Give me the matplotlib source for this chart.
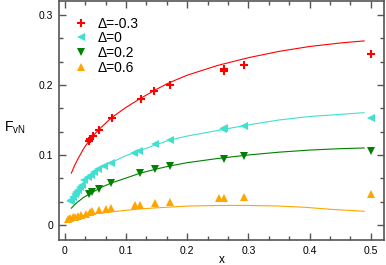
import matplotlib
matplotlib.use("Agg")
import matplotlib.pyplot as plt
from matplotlib.ticker import MultipleLocator

plt.rcParams['font.family'] = ['Liberation Sans', 'DejaVu Sans']

# ---- data points ----
red_x = [0.039, 0.041, 0.0455, 0.0557, 0.0766, 0.124, 0.146, 0.1715, 0.26, 0.26, 0.293, 0.4995]
red_y = [0.120, 0.123, 0.127, 0.136, 0.153, 0.180, 0.191, 0.200, 0.220, 0.223, 0.229, 0.244]

cyan_x = [0.009, 0.0107, 0.0134, 0.016, 0.0188, 0.0214, 0.024, 0.028, 0.032, 0.0375, 0.042,
          0.047, 0.055, 0.064, 0.075, 0.1136, 0.122, 0.147, 0.1715, 0.258, 0.26, 0.292, 0.4995]
cyan_y = [0.034, 0.036, 0.0405, 0.044, 0.047, 0.050, 0.054, 0.057, 0.064, 0.069, 0.072,
          0.076, 0.0795, 0.084, 0.088, 0.103, 0.106, 0.115, 0.121, 0.137, 0.139, 0.141, 0.153]

green_x = [0.039, 0.0445, 0.0563, 0.076, 0.123, 0.147, 0.1715, 0.26, 0.2926, 0.4995]
green_y = [0.044, 0.0467, 0.0514, 0.0605, 0.0738, 0.0795, 0.0843, 0.0938, 0.099, 0.106]

orange_x = [0.0053, 0.009, 0.013, 0.017, 0.0214, 0.027, 0.0354, 0.0418, 0.045, 0.0563, 0.0675,
            0.076, 0.1141, 0.123, 0.147, 0.1715, 0.252, 0.26, 0.2926, 0.4995]
orange_y = [0.008, 0.0097, 0.011, 0.0115, 0.0133, 0.014, 0.016, 0.019, 0.020, 0.0213, 0.0233,
            0.0247, 0.0286, 0.0286, 0.031, 0.0333, 0.039, 0.039, 0.0395, 0.0438]

# ---- theory curves ----
red_cx = [0.0107, 0.015, 0.02, 0.03, 0.04, 0.05, 0.06, 0.076, 0.1, 0.124, 0.15, 0.17,
          0.2, 0.25, 0.3, 0.35, 0.4, 0.45, 0.489]
red_cy = [0.074, 0.083, 0.092, 0.108, 0.121, 0.131, 0.140, 0.153, 0.168, 0.181, 0.194, 0.203,
          0.214, 0.228, 0.239, 0.248, 0.255, 0.260, 0.263]

cyan_cx = [0.0107, 0.015, 0.02, 0.03, 0.04, 0.05, 0.06, 0.075, 0.1, 0.125, 0.15, 0.17,
           0.2, 0.25, 0.3, 0.35, 0.4, 0.45, 0.489]
cyan_cy = [0.035, 0.042, 0.048, 0.060, 0.069, 0.076, 0.082, 0.089, 0.099, 0.107, 0.115, 0.121,
           0.127, 0.135, 0.143, 0.150, 0.155, 0.158, 0.1604]

green_cx = [0.0107, 0.015, 0.02, 0.03, 0.04, 0.05, 0.06, 0.076, 0.1, 0.123, 0.15, 0.17,
            0.2, 0.25, 0.3, 0.35, 0.4, 0.45, 0.489]
green_cy = [0.024, 0.028, 0.032, 0.039, 0.044, 0.049, 0.054, 0.060, 0.067, 0.074, 0.080, 0.084,
            0.089, 0.095, 0.100, 0.104, 0.107, 0.109, 0.110]

orange_cx = [0.0053, 0.01, 0.02, 0.03, 0.04, 0.05, 0.075, 0.1, 0.125, 0.15, 0.1715,
             0.2, 0.25, 0.2947, 0.35, 0.391, 0.44, 0.489]
orange_cy = [0.0071, 0.009, 0.012, 0.0135, 0.015, 0.016, 0.0185, 0.021, 0.023, 0.0245, 0.0255,
             0.027, 0.0278, 0.028, 0.027, 0.0253, 0.022, 0.0196]

labels = ['Δ=-0.3', 'Δ=0', 'Δ=0.2', 'Δ=0.6']
colors = ['#ff0000', '#40e0d0', '#008000', '#ffa500']

fig = plt.figure(figsize=(3.86, 2.65), dpi=100)
ax = fig.add_axes([59/386, 1 - 240/265, 325/386, 239/265])

ax.plot(red_cx, red_cy, '-', color=colors[0], lw=0.8)
ax.plot(cyan_cx, cyan_cy, '-', color=colors[1], lw=0.8)
ax.plot(green_cx, green_cy, '-', color=colors[2], lw=0.8)
ax.plot(orange_cx, orange_cy, '-', color=colors[3], lw=0.8)

ax.plot(red_x, red_y, '+', color=colors[0], ms=6, mew=1.5, ls='none', label=labels[0])
ax.plot(cyan_x, cyan_y, '<', color=colors[1], ms=5.5, mew=0, ls='none', label=labels[1])
ax.plot(green_x, green_y, 'v', color=colors[2], ms=5.5, mew=0, ls='none', label=labels[2])
ax.plot(orange_x, orange_y, '^', color=colors[3], ms=5.5, mew=0, ls='none', label=labels[3])

ax.set_xlim(-0.0095, 0.5215)
ax.set_ylim(-0.0215, 0.32)

ax.xaxis.set_minor_locator(MultipleLocator(0.1/3))
ax.yaxis.set_minor_locator(MultipleLocator(0.1/3))
ax.set_xticks([0, 0.1, 0.2, 0.3, 0.4, 0.5])
ax.set_xticklabels(['0', '0.1', '0.2', '0.3', '0.4', '0.5'])
ax.set_yticks([0, 0.1, 0.2, 0.3])
ax.set_yticklabels(['0', '0.1', '0.2', '0.3'])

spine_c = '#555555'
for s in ax.spines.values():
    s.set_color(spine_c)
    s.set_linewidth(1.2)
ax.tick_params(which='both', direction='in', top=True, right=True, colors=spine_c,
               labelcolor='black', labelsize=7.5, width=1.0)
ax.tick_params(which='major', length=5, pad=4)
ax.tick_params(which='minor', length=3)

ax.set_xlabel('x', fontsize=8.5, labelpad=-1)
ax.set_ylabel('F$_{\\mathregular{vN}}$', fontsize=10, rotation=0, va='center')
ax.yaxis.set_label_coords(-0.135, 0.47)

leg = ax.legend(loc='upper left', bbox_to_anchor=(0.045, 0.935), frameon=False,
                fontsize=10, handlelength=1.0, handletextpad=0.7, labelspacing=0.05,
                borderpad=0, borderaxespad=0)

fig.savefig('out.png', dpi=100)
